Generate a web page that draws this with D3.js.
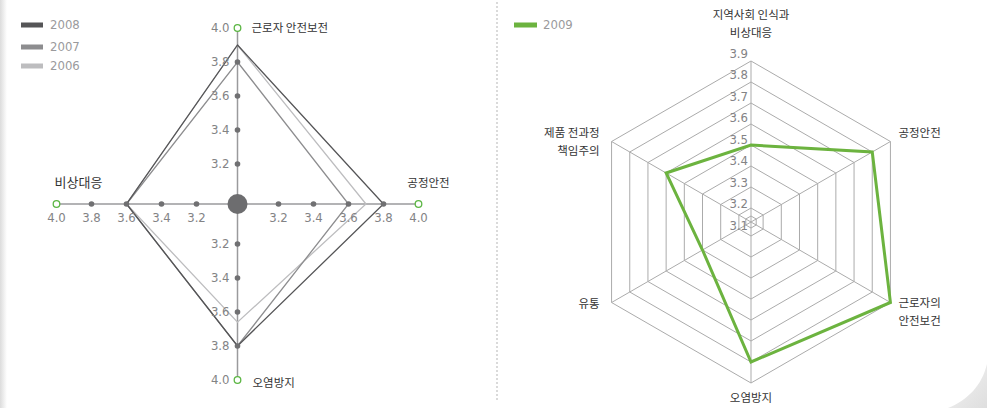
<!DOCTYPE html>
<html>
<head>
<meta charset="utf-8">
<script src="https://cdn.jsdelivr.net/npm/d3@7"></script>
<style>
  body { margin: 0; background: #fff; }
  svg { display: block; }
</style>
</head>
<body>
<script>
// ---- data ----
// left chart: axes in order top, right, bottom, left
const leftAxes = ["근로자 안전보전", "공정안전", "오염방지", "비상대응"];
const leftYears = ["2008", "2007", "2006"];
const values2008 = [3.9, 3.8, 3.8, 3.6];
const values2007 = [3.8, 3.6, 3.8, 3.6];
const values2006 = [3.9, 3.7, 3.66, 3.6];
const leftTicks = [3.2, 3.4, 3.6, 3.8, 4.0];

// right chart: axes clockwise from the top
const rightAxes = [["지역사회 인식과", "비상대응"], ["공정안전"], ["근로자의", "안전보건"], ["오염방지"], ["유통"], ["제품 전과정", "책임주의"]];
const values2009 = [3.5, 3.8, 3.9, 3.8, 3.4, 3.6];
const rightTicks = [3.1, 3.2, 3.3, 3.4, 3.5, 3.6, 3.7, 3.8, 3.9];

const width = 987, height = 408;
const numFont = "'Liberation Sans Narrow', 'DejaVu Sans Condensed', Roboto, sans-serif";
const korFont = "'Noto Sans CJK KR', 'Noto Sans', sans-serif";

const svg = d3.select("body").append("svg")
  .attr("width", width)
  .attr("height", height);

// page edge shading
const defs = svg.append("defs");
const edge = defs.append("linearGradient").attr("id", "edge");
edge.append("stop").attr("offset", 0).attr("stop-color", "#dcdcdc");
edge.append("stop").attr("offset", 1).attr("stop-color", "#fff");
svg.append("rect").attr("x", 0).attr("y", 0).attr("width", 7).attr("height", height).attr("fill", "url(#edge)");

const curl = defs.append("linearGradient").attr("id", "curl")
  .attr("x1", 0).attr("y1", 0).attr("x2", 1).attr("y2", 1);
curl.append("stop").attr("offset", 0).attr("stop-color", "#f4f4f4");
curl.append("stop").attr("offset", 1).attr("stop-color", "#dedede");
svg.append("path")
  .attr("d", "M948,408 C968,400 982,385 987,364 L987,408 Z")
  .attr("fill", "url(#curl)");

// separator
svg.append("line")
  .attr("x1", 497).attr("x2", 497).attr("y1", 2).attr("y2", 402)
  .attr("stroke", "#b5b5b5").attr("stroke-dasharray", "2,2");

// ---------------- left chart ----------------
const cx = 237.5, cy = 204;
const rx = d3.scaleLinear().domain([3, 4]).range([6, 181]);
const ry = d3.scaleLinear().domain([3, 4]).range([6, 176]);
const dirs = [[0, -1], [1, 0], [0, 1], [-1, 0]];
const yearColor = d3.scaleOrdinal().domain(leftYears).range(["#555557", "#8d8d8f", "#bdbdbf"]);
const yearValues = {"2008": values2008, "2007": values2007, "2006": values2006};
const pt = (d, v) => [cx + d[0] * rx(v), cy + d[1] * ry(v)];

const left = svg.append("g");

// axis lines
left.selectAll("line.axis")
  .data(dirs)
  .join("line")
  .attr("x1", cx).attr("y1", cy)
  .attr("x2", d => pt(d, 4.0)[0])
  .attr("y2", d => pt(d, 4.0)[1])
  .attr("stroke", "#9a9a9c")
  .attr("stroke-width", 1.5);

// year outlines
const line = d3.line().curve(d3.curveLinearClosed);
left.selectAll("path.year")
  .data(leftYears.slice().reverse())
  .join("path")
  .attr("d", y => line(dirs.map((d, i) => pt(d, yearValues[y][i]))))
  .attr("fill", "none")
  .attr("stroke", y => yearColor(y))
  .attr("stroke-width", 1.3);

// tick dots and labels
const tickPts = dirs.flatMap((d, i) => leftTicks.map(t => ({d, i, t})));
left.selectAll("circle.tick")
  .data(tickPts.filter(p => p.t < 4))
  .join("circle")
  .attr("cx", p => pt(p.d, p.t)[0])
  .attr("cy", p => pt(p.d, p.t)[1])
  .attr("r", 2.8)
  .attr("fill", "#707072");

left.selectAll("circle.end")
  .data(dirs)
  .join("circle")
  .attr("cx", d => pt(d, 4)[0])
  .attr("cy", d => pt(d, 4)[1])
  .attr("r", 3.3)
  .attr("fill", "#fff")
  .attr("stroke", "#5cb644")
  .attr("stroke-width", 1.3);

left.append("circle")
  .attr("cx", cx).attr("cy", cy).attr("r", 10)
  .attr("fill", "#6d6d6f");

left.selectAll("text.tick")
  .data(tickPts)
  .join("text")
  .attr("x", p => p.d[0] === 0 ? pt(p.d, p.t)[0] - 8 : pt(p.d, p.t)[0])
  .attr("y", p => p.d[0] === 0 ? pt(p.d, p.t)[1] : pt(p.d, p.t)[1] + 14)
  .attr("text-anchor", p => p.d[0] === 0 ? "end" : "middle")
  .attr("dominant-baseline", "middle")
  .attr("font-family", numFont)
  .attr("font-size", 13)
  .attr("fill", "#838385")
  .text(p => p.t.toFixed(1));

// axis titles
const leftTitlePos = [
  {dx: 14, dy: 1, anchor: "start", size: 11.5},
  {dx: 10, dy: -20, anchor: "middle", size: 11.5},
  {dx: 15, dy: 4, anchor: "start", size: 11.5},
  {dx: 22, dy: -21, anchor: "middle", size: 13}
];
left.selectAll("text.title")
  .data(leftAxes)
  .join("text")
  .attr("x", (t, i) => pt(dirs[i], 4)[0] + leftTitlePos[i].dx)
  .attr("y", (t, i) => pt(dirs[i], 4)[1] + leftTitlePos[i].dy)
  .attr("text-anchor", (t, i) => leftTitlePos[i].anchor)
  .attr("dominant-baseline", "middle")
  .attr("font-family", korFont)
  .attr("font-size", (t, i) => leftTitlePos[i].size)
  .attr("fill", "#333")
  .text(t => t);

// legend
const legL = left.selectAll("g.leg")
  .data(leftYears)
  .join("g")
  .attr("transform", (y, i) => `translate(21,${[25, 47, 66][i]})`);
legL.append("rect").attr("x", 0).attr("y", -2.5).attr("width", 22).attr("height", 5)
  .attr("fill", y => yearColor(y));
legL.append("text").attr("x", 29).attr("y", 0)
  .attr("dominant-baseline", "middle")
  .attr("font-family", numFont).attr("font-size", 13).attr("fill", "#9a9a9c")
  .text(y => y);

// ---------------- right chart ----------------
const rcx = 751, rcy = 222;
const rr = d3.scaleLinear().domain([3.1, 3.2, 3.9]).range([6, 14, 161]);
const labelY = d3.scaleLinear().domain([3.1, 3.9]).range([226, 54]);
const angle = i => -Math.PI / 2 + i * Math.PI / 3;
const rpt = (i, v) => [rcx + Math.cos(angle(i)) * rr(v), rcy + Math.sin(angle(i)) * rr(v)];

const right = svg.append("g");

right.selectAll("path.ring")
  .data(rightTicks)
  .join("path")
  .attr("d", t => line(rightAxes.map((a, i) => rpt(i, t))))
  .attr("fill", "none")
  .attr("stroke", "#ababab")
  .attr("stroke-width", 1);

right.selectAll("line.spoke")
  .data(rightAxes)
  .join("line")
  .attr("x1", rcx).attr("y1", rcy)
  .attr("x2", (a, i) => rpt(i, 3.9)[0])
  .attr("y2", (a, i) => rpt(i, 3.9)[1])
  .attr("stroke", "#ababab")
  .attr("stroke-width", 1);

right.selectAll("text.tick")
  .data(rightTicks)
  .join("text")
  .attr("x", rcx - 3)
  .attr("y", t => labelY(t))
  .attr("text-anchor", "end")
  .attr("dominant-baseline", "middle")
  .attr("font-family", numFont)
  .attr("font-size", 13)
  .attr("fill", "#838385")
  .text(t => t.toFixed(1));

right.append("path")
  .attr("d", line(values2009.map((v, i) => rpt(i, v))))
  .attr("fill", "none")
  .attr("stroke", "#6cb33f")
  .attr("stroke-width", 3)
  .attr("stroke-linejoin", "miter");

const rightTitlePos = [
  {dx: 0, dy: -45, anchor: "middle"},
  {dx: 8, dy: -8, anchor: "start"},
  {dx: 8, dy: 1, anchor: "start"},
  {dx: 0, dy: 16, anchor: "middle"},
  {dx: -12, dy: 2, anchor: "end"},
  {dx: -12, dy: -8, anchor: "end"}
];
right.selectAll("text.title")
  .data(rightAxes)
  .join("text")
  .attr("text-anchor", (a, i) => rightTitlePos[i].anchor)
  .attr("font-family", korFont)
  .attr("font-size", 11.5)
  .attr("fill", "#333")
  .each(function(a, i) {
    const [x, y] = rpt(i, 3.9);
    d3.select(this).selectAll("tspan")
      .data(a)
      .join("tspan")
      .attr("x", x + rightTitlePos[i].dx)
      .attr("y", (s, k) => y + rightTitlePos[i].dy + k * 18)
      .attr("dominant-baseline", "middle")
      .text(s => s);
  });

const legR = right.append("g").attr("transform", "translate(514,25)");
legR.append("rect").attr("x", 0).attr("y", -2.5).attr("width", 23).attr("height", 5).attr("fill", "#6cb33f");
legR.append("text").attr("x", 29).attr("y", 0)
  .attr("dominant-baseline", "middle")
  .attr("font-family", numFont).attr("font-size", 13).attr("fill", "#9a9a9c")
  .text("2009");
</script>
</body>
</html>
